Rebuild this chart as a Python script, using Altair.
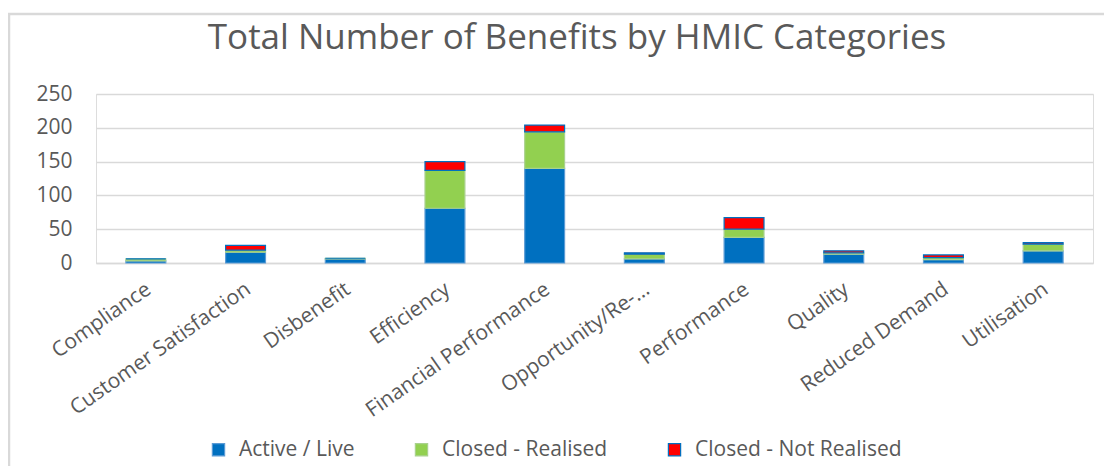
import altair as alt
import pandas as pd

categories = ["Compliance", "Customer Satisfaction", "Disbenefit", "Efficiency",
              "Financial Performance", "Opportunity/Re-…", "Performance", "Quality",
              "Reduced Demand", "Utilisation"]
series = ["Active / Live", "Closed - Realised", "Closed - Not Realised"]
active_live = [3, 16, 6, 81, 140, 6, 38, 13, 5, 18]
closed_realised = [3, 3, 1, 56, 54, 7, 12, 2, 3, 10]
closed_not_realised = [0, 7, 0, 13, 10, 2, 17, 3, 4, 2]
y_ticks = [0, 50, 100, 150, 200, 250]
title_text = "Total Number of Benefits by HMIC Categories"

fill_colors = ["#0070C0", "#92D050", "#FF0000"]
stroke_colors = ["#5B9BD5", "#A9D18E", "#0070C0"]

rows = []
for i, c in enumerate(categories):
    for k, (s, vals) in enumerate(zip(series, [active_live, closed_realised, closed_not_realised])):
        rows.append({"Category": c, "Status": s, "Count": vals[i], "ord": k})
df = pd.DataFrame(rows)

FONT = "Open Sans"
GREY = "#595959"
FS = 21

frame = alt.Chart(pd.DataFrame({"a": [0]})).mark_rect(
    filled=False, stroke="#D9D9D9", strokeWidth=2.5
).encode(
    x=alt.value(-87), x2=alt.value(1300), y=alt.value(-80), y2=alt.value(600)
)

title = alt.Chart(pd.DataFrame({"t": [title_text]})).mark_text(
    font=FONT, fontSize=35, color=GREY, align="center", baseline="alphabetic"
).encode(
    text="t:N", x=alt.value(481), y=alt.value(-45)
)

bars = alt.Chart(df).mark_bar(strokeWidth=1.2).encode(
    x=alt.X("Category:N", sort=categories, title=None,
            scale=alt.Scale(paddingInner=0.6, paddingOuter=0.3),
            axis=alt.Axis(labelAngle=325, labelAlign="right", labelBaseline="middle",
                          labelPadding=24, labelOffset=3, labelFontSize=FS,
                          labelColor=GREY, labelFont=FONT, ticks=False,
                          domainColor="#D9D9D9", domainWidth=1.5, grid=False,
                          labelLimit=400)),
    y=alt.Y("Count:Q", title=None, stack="zero",
            scale=alt.Scale(domain=[0, 250], nice=False),
            axis=alt.Axis(values=y_ticks, labelFontSize=FS, labelColor=GREY,
                          labelFont=FONT, ticks=False, domain=False, labelPadding=24,
                          gridColor="#D9D9D9", gridWidth=1.5)),
    color=alt.Color("Status:N", sort=series,
                    scale=alt.Scale(domain=series, range=fill_colors),
                    legend=alt.Legend(title=None, orient="none", direction="horizontal",
                                      legendX=112, legendY=345, columns=3,
                                      symbolType="square", symbolSize=150,
                                      labelFontSize=FS, labelColor=GREY, labelFont=FONT,
                                      columnPadding=56, labelOffset=10, labelLimit=500,
                                      symbolStrokeWidth=1.2)),
    stroke=alt.Stroke("Status:N", sort=series,
                      scale=alt.Scale(domain=series, range=stroke_colors),
                      legend=None),
    order=alt.Order("ord:Q", sort="ascending"),
)

chart = alt.layer(frame, title, bars).properties(
    width=997, height=169,
    padding={"left": 88, "top": 86, "right": 11, "bottom": 203},
    autosize=alt.AutoSizeParams(type="none"),
).configure_view(stroke=None).configure(background="white")

chart.save("out.html", embed_options={"renderer": "svg", "actions": False})
